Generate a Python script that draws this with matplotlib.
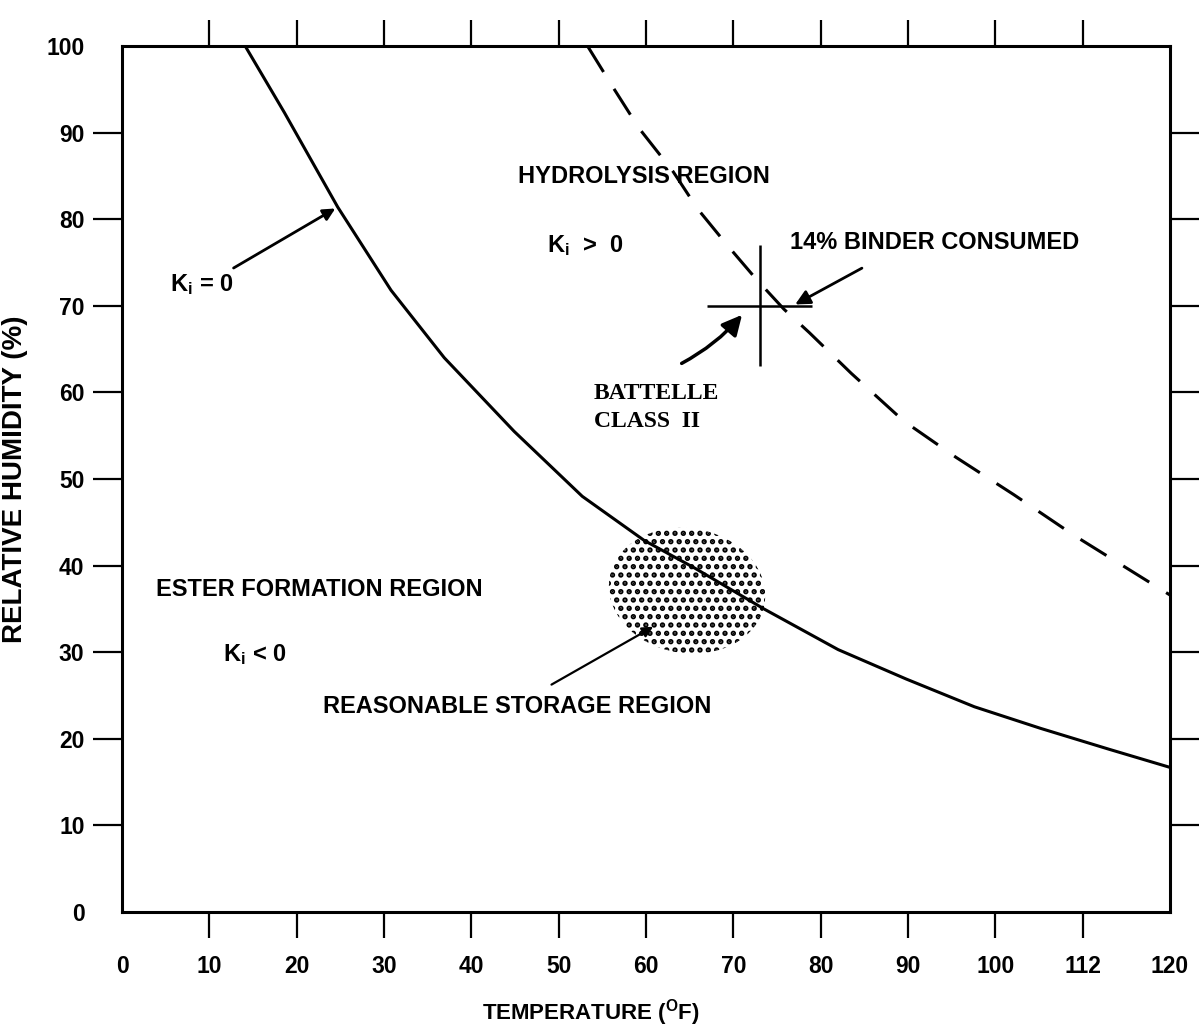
import matplotlib
matplotlib.use("Agg")
import matplotlib.pyplot as plt
from matplotlib.patches import Ellipse

plt.rcParams['font.family'] = ['Liberation Sans', 'DejaVu Sans']
plt.rcParams['font.weight'] = 'bold'
plt.rcParams['mathtext.fontset'] = 'custom'
plt.rcParams['mathtext.rm'] = 'Liberation Sans:bold'
plt.rcParams['mathtext.bf'] = 'Liberation Sans:bold'
plt.rcParams['mathtext.it'] = 'Liberation Sans:bold'
plt.rcParams['hatch.linewidth'] = 2.6

# K_i = 0 boundary (solid curve)
ki0_temp = [14.1, 18.6, 24.7, 30.8, 36.9, 44.9, 52.7, 59.8, 65.6, 73.5, 82.0, 89.8, 97.6, 105.2, 113.0, 120.0]
ki0_rh = [100, 92.3, 81.4, 71.8, 64.0, 55.5, 48.0, 42.9, 39.7, 35.0, 30.3, 26.9, 23.7, 21.2, 18.8, 16.7]

# 14% binder consumed (dashed curve)
binder_temp = [53.3, 56.3, 59.2, 63.1, 65.9, 69.3, 72.6, 75.8, 78.7, 83.5, 89.5, 95.5, 102.1, 109.0, 120.0]
binder_rh = [100, 95.1, 90.5, 85.5, 81.2, 77.0, 73.1, 69.6, 66.9, 62.2, 56.7, 52.5, 48.2, 43.5, 36.6]

# Battelle class II point with its spread
battelle_temp = [73]
battelle_rh = [70]
battelle_dtemp = [6]
battelle_drh = [7]

# reasonable storage region (blob)
storage_center = (64.7, 37.1)
storage_size = (18, 14.4)

xtick_pos = [0, 10, 20, 30, 40, 50, 60, 70, 80, 90, 100, 110, 120]
xtick_labels = ['0', '10', '20', '30', '40', '50', '60', '70', '80', '90', '100', '112', '120']
ytick_pos = [0, 10, 20, 30, 40, 50, 60, 70, 80, 90, 100]
ytick_labels = [str(v) for v in ytick_pos]

fig = plt.figure(figsize=(12.02, 10.31), dpi=100)
ax = fig.add_axes([0.1015, 0.1154, 0.8719, 0.84])

ax.plot(ki0_temp, ki0_rh, color='black', lw=2.2, solid_capstyle='butt')
ax.plot(binder_temp, binder_rh, color='black', lw=2.2, linestyle=(0, (10, 6.5)))

ax.errorbar(battelle_temp, battelle_rh, xerr=battelle_dtemp, yerr=battelle_drh,
            fmt='none', ecolor='black', elinewidth=1.8, capsize=0)

blob = Ellipse(storage_center, storage_size[0], storage_size[1], angle=-10,
               facecolor='white', edgecolor='black', linewidth=0, hatch='..', zorder=1)
ax.add_patch(blob)

ax.set_xlim(0, 120)
ax.set_ylim(0, 100)

for s in ax.spines.values():
    s.set_linewidth(2.2)

# labels on major ticks, marks on minor ticks (10..110 / 10..90)
ax.xaxis.remove_overlapping_locs = False
ax.yaxis.remove_overlapping_locs = False
ax.set_xticks(xtick_pos)
ax.set_xticklabels(xtick_labels)
ax.set_yticks(ytick_pos)
ax.set_yticklabels(ytick_labels)
ax.set_xticks(range(10, 111, 10), minor=True)
ax.set_yticks(range(10, 91, 10), minor=True)
ax.tick_params(axis='x', which='major', length=0, pad=31, labelsize=16.5)
ax.tick_params(axis='y', which='major', length=0, pad=27, labelsize=16.5)
ax.tick_params(axis='x', which='minor', direction='out', length=19, width=1.6,
               top=True, bottom=True)
ax.tick_params(axis='y', which='minor', direction='out', length=21, width=1.6,
               left=True, right=True)

ax.set_xlabel(r'TEMPERATURE ($^{\mathbf{O}}$F)', fontsize=16, fontweight='bold')
ax.xaxis.set_label_coords(0.447, -0.098)
ax.set_ylabel('RELATIVE HUMIDITY (%)', fontsize=20, fontweight='bold')
ax.yaxis.set_label_coords(-0.09, 0.5)

txt = dict(fontsize=17, fontweight='bold', ha='left', va='center')
ax.text(45.3, 84.9, 'HYDROLYSIS REGION', **txt)
ax.text(48.7, 77, r'K$_\mathbf{i}$  >  0', **txt)
ax.text(76.5, 77.3, '14% BINDER CONSUMED', **txt)
ax.text(5.5, 72.4, r'K$_\mathbf{i}$ = 0', **txt)
ax.text(3.9, 37.2, 'ESTER FORMATION REGION', **txt)
ax.text(11.6, 29.7, r'K$_\mathbf{i}$ < 0', **txt)
ax.text(23.0, 23.7, 'REASONABLE STORAGE REGION', **txt)
ax.text(54.0, 58.3, 'BATTELLE\nCLASS  II', family='Liberation Serif', fontsize=17,
        fontweight='bold', ha='left', va='center', linespacing=1.45)

ax.annotate('', xy=(24.7, 81.4), xytext=(12.5, 74.2),
            arrowprops=dict(arrowstyle='-|>', color='black', lw=2, mutation_scale=18))
ax.annotate('', xy=(76.8, 70), xytext=(85, 74.5),
            arrowprops=dict(arrowstyle='-|>', color='black', lw=2, mutation_scale=22))
ax.annotate('', xy=(71.2, 69.2), xytext=(63.8, 63.2),
            arrowprops=dict(arrowstyle='-|>', color='black', lw=2.5, mutation_scale=30,
                            connectionstyle='arc3,rad=0.1'))
ax.annotate('', xy=(61.1, 33.1), xytext=(48.9, 26.1),
            arrowprops=dict(arrowstyle='-|>', color='black', lw=1.6, mutation_scale=16))

fig.savefig('out.png', dpi=100)
